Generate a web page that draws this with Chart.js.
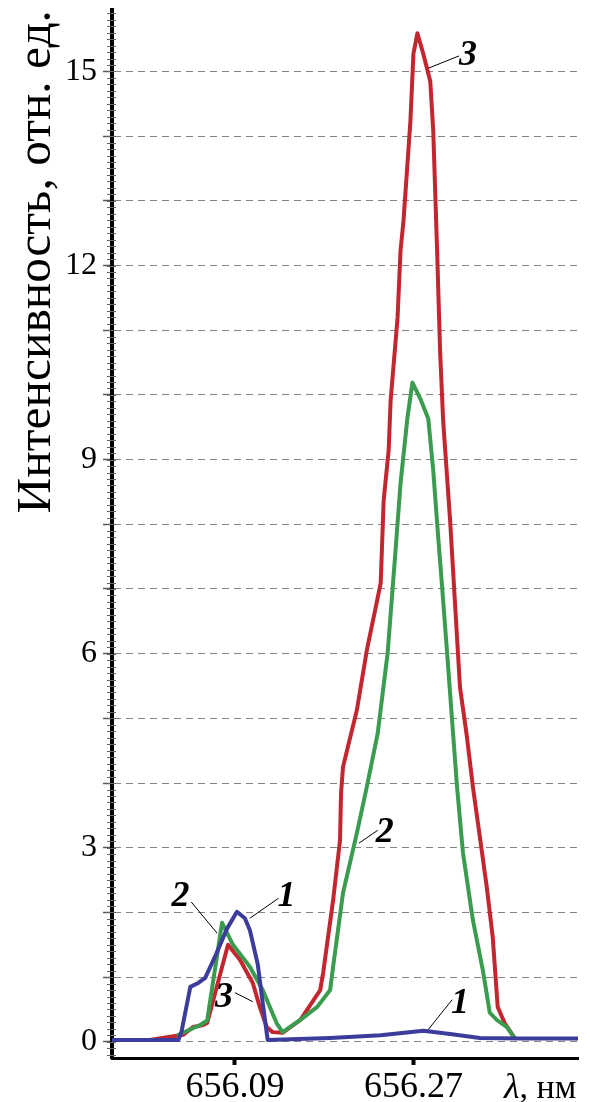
<!DOCTYPE html>
<html><head><meta charset="utf-8">
<script src="https://cdn.jsdelivr.net/npm/chart.js@4"></script>
<style>html,body{margin:0;padding:0;background:#fff;overflow:hidden}</style>
</head><body>
<canvas id="c" width="590" height="1102"></canvas>
<script>
// ---- data (wavelength, nm / intensity, rel. units) ----
const wavelength1 = [655.966, 656.033, 656.036, 656.045, 656.053, 656.060, 656.070, 656.082, 656.092, 656.100, 656.105, 656.113, 656.118, 656.123, 656.186, 656.237, 656.280, 656.307, 656.337, 656.378, 656.436];
const intensity1  = [0.03, 0.03, 0.15, 0.85, 0.91, 0.99, 1.32, 1.75, 2.01, 1.91, 1.73, 1.20, 0.60, 0.03, 0.06, 0.10, 0.17, 0.12, 0.06, 0.05, 0.05];

const wavelength2 = [656.033, 656.055, 656.062, 656.077, 656.088, 656.105, 656.118, 656.132, 656.138, 656.156, 656.173, 656.186, 656.189, 656.199, 656.213, 656.223, 656.234, 656.244, 656.252, 656.257, 656.264, 656.269, 656.277, 656.285, 656.290, 656.295, 656.299, 656.304, 656.309, 656.314, 656.320, 656.330, 656.340, 656.347, 656.354, 656.364, 656.372];
const intensity2  = [0.11, 0.26, 0.33, 1.84, 1.50, 1.16, 0.80, 0.29, 0.15, 0.34, 0.54, 0.80, 1.16, 2.30, 3.23, 3.94, 4.77, 6.01, 7.60, 8.63, 9.65, 10.19, 9.94, 9.63, 8.83, 7.80, 7.02, 6.01, 4.97, 3.94, 2.92, 1.88, 1.11, 0.45, 0.34, 0.23, 0.06];

const wavelength3 = [656.004, 656.025, 656.038, 656.048, 656.058, 656.062, 656.083, 656.095, 656.108, 656.115, 656.122, 656.128, 656.138, 656.156, 656.176, 656.179, 656.189, 656.196, 656.197, 656.199, 656.213, 656.223, 656.237, 656.240, 656.245, 656.247, 656.254, 656.257, 656.260, 656.267, 656.270, 656.274, 656.280, 656.287, 656.290, 656.294, 656.297, 656.300, 656.307, 656.314, 656.317, 656.324, 656.330, 656.337, 656.344, 656.350, 656.355, 656.362, 656.372];
const intensity3  = [0.03, 0.08, 0.11, 0.23, 0.26, 0.29, 1.50, 1.27, 0.91, 0.54, 0.23, 0.15, 0.14, 0.34, 0.80, 1.07, 2.19, 3.12, 3.84, 4.25, 5.13, 6.05, 7.09, 8.37, 9.14, 9.91, 11.19, 12.23, 12.69, 14.24, 15.27, 15.59, 15.27, 14.85, 14.08, 12.18, 10.64, 9.60, 8.06, 6.25, 5.48, 4.71, 3.94, 3.17, 2.39, 1.62, 0.54, 0.29, 0.06];

const xTickValues = [656.09, 656.27];
const yLabelValues = [0, 3, 6, 9, 12, 15];
const yGridValues = [0, 0.5, 1, 1.5, 2, 2.5, 3, 3.5, 4, 4.5, 5, 5.5, 6, 6.5, 7, 7.5, 8, 8.5, 9, 9.5, 10, 10.5, 11, 11.5, 12, 12.5, 13, 13.5, 14, 14.5, 15, 15.5];

const yTitle = 'Интенсивность, отн. ед.';
const xUnitSymbol = 'λ';
const xUnitText = ', нм';

// curve labels (in data units): text, anchor, leader start, leader end
const curveLabels = ['3', '2', '2', '1', '3', '1'];
const labelX  = [656.325, 656.241, 656.035, 656.142, 656.079, 656.317];
const labelY  = [15.24, 3.23, 2.24, 2.24, 0.68, 0.59];
const leadX1  = [656.316, 656.234, 656.046, 656.134, 656.090, 656.309];
const leadY1  = [15.24, 3.27, 2.16, 2.22, 0.76, 0.65];
const leadX2  = [656.285, 656.215, 656.072, 656.105, 656.108, 656.285];
const leadY2  = [15.05, 3.07, 1.68, 1.91, 0.62, 0.19];

const SERIF = "'Liberation Serif', 'Times New Roman', 'DejaVu Serif', serif";
Chart.defaults.font.family = SERIF;
Chart.defaults.color = '#000';

const pts = (xs, ys) => xs.map((x, i) => ({x, y: ys[i]}));

const decor = {
  id: 'decor',
  afterDraw(chart) {
    const {ctx, scales: {x, y}} = chart;
    const left = chart.chartArea.left;
    ctx.save();
    // minor ticks on y axis
    ctx.strokeStyle = '#666';
    ctx.lineWidth = 1;
    for (let v = -0.2; v <= 15.9; v += 0.1) {
      const py = Math.round(y.getPixelForValue(v)) + 0.5;
      ctx.beginPath();
      ctx.moveTo(left - 5, py);
      ctx.lineTo(left + 4, py);
      ctx.stroke();
    }
    // leaders + curve numbers
    ctx.strokeStyle = '#000';
    ctx.lineWidth = 1;
    ctx.fillStyle = '#000';
    ctx.font = 'italic bold 36px ' + SERIF;
    ctx.textAlign = 'center';
    ctx.textBaseline = 'middle';
    curveLabels.forEach((t, i) => {
      ctx.beginPath();
      ctx.moveTo(x.getPixelForValue(leadX1[i]), y.getPixelForValue(leadY1[i]));
      ctx.lineTo(x.getPixelForValue(leadX2[i]), y.getPixelForValue(leadY2[i]));
      ctx.stroke();
      ctx.fillText(t, x.getPixelForValue(labelX[i]), y.getPixelForValue(labelY[i]));
    });
    // x unit label
    ctx.textAlign = 'left';
    ctx.textBaseline = 'alphabetic';
    ctx.font = 'italic 36px ' + SERIF;
    const ux = 504, uy = 1098;
    ctx.fillText(xUnitSymbol, ux, uy);
    const w = ctx.measureText(xUnitSymbol).width;
    ctx.font = '34px ' + SERIF;
    ctx.fillText(xUnitText, ux + w, uy);
    ctx.restore();
  }
};

new Chart(document.getElementById('c'), {
  type: 'line',
  data: {
    datasets: [
      {label: '1', data: pts(wavelength1, intensity1), borderColor: '#3c3c9c', borderWidth: 4},
      {label: '2', data: pts(wavelength2, intensity2), borderColor: '#3a9c4e', borderWidth: 4},
      {label: '3', data: pts(wavelength3, intensity3), borderColor: '#c3262f', borderWidth: 4}
    ]
  },
  options: {
    responsive: false,
    devicePixelRatio: 1,
    animation: false,
    events: [],
    layout: {padding: {top: 10, right: 12, left: 0, bottom: 0}},
    elements: {point: {radius: 0}, line: {tension: 0, borderJoinStyle: 'round', borderCapStyle: 'round'}},
    plugins: {legend: {display: false}, tooltip: {enabled: false}},
    scales: {
      x: {
        type: 'linear',
        min: 655.966,
        max: 656.436,
        afterBuildTicks: s => { s.ticks = xTickValues.map(v => ({value: v})); },
        afterFit: s => { s.height = 44; s.paddingLeft = 0; s.paddingRight = 0; },
        border: {color: '#000', width: 3},
        grid: {drawOnChartArea: false, drawTicks: true, tickLength: 7, tickWidth: 4, tickColor: '#000'},
        ticks: {
          autoSkip: false, maxRotation: 0, padding: 1, color: '#000',
          font: {family: SERIF, size: 36},
          callback: v => v.toFixed(2)
        }
      },
      y: {
        type: 'linear',
        min: -0.25,
        max: 15.95,
        afterBuildTicks: s => { s.ticks = yGridValues.map(v => ({value: v})); },
        afterFit: s => { s.width = 112; s.paddingTop = 0; s.paddingBottom = 0; },
        border: {color: '#000', width: 4, dash: [7, 5]},
        grid: {color: '#858585', lineWidth: 1, drawTicks: true, tickLength: 9, tickWidth: 1.5, tickColor: '#555', tickBorderDash: []},
        ticks: {
          padding: 6, color: '#000',
          font: {family: SERIF, size: 32},
          callback: v => yLabelValues.includes(v) ? String(v) : ''
        },
        title: {
          display: true, text: yTitle, align: 'end', color: '#000',
          font: {family: SERIF, size: 49.5},
          padding: {top: 7, bottom: 0}
        }
      }
    }
  },
  plugins: [decor]
});
</script>
</body></html>
